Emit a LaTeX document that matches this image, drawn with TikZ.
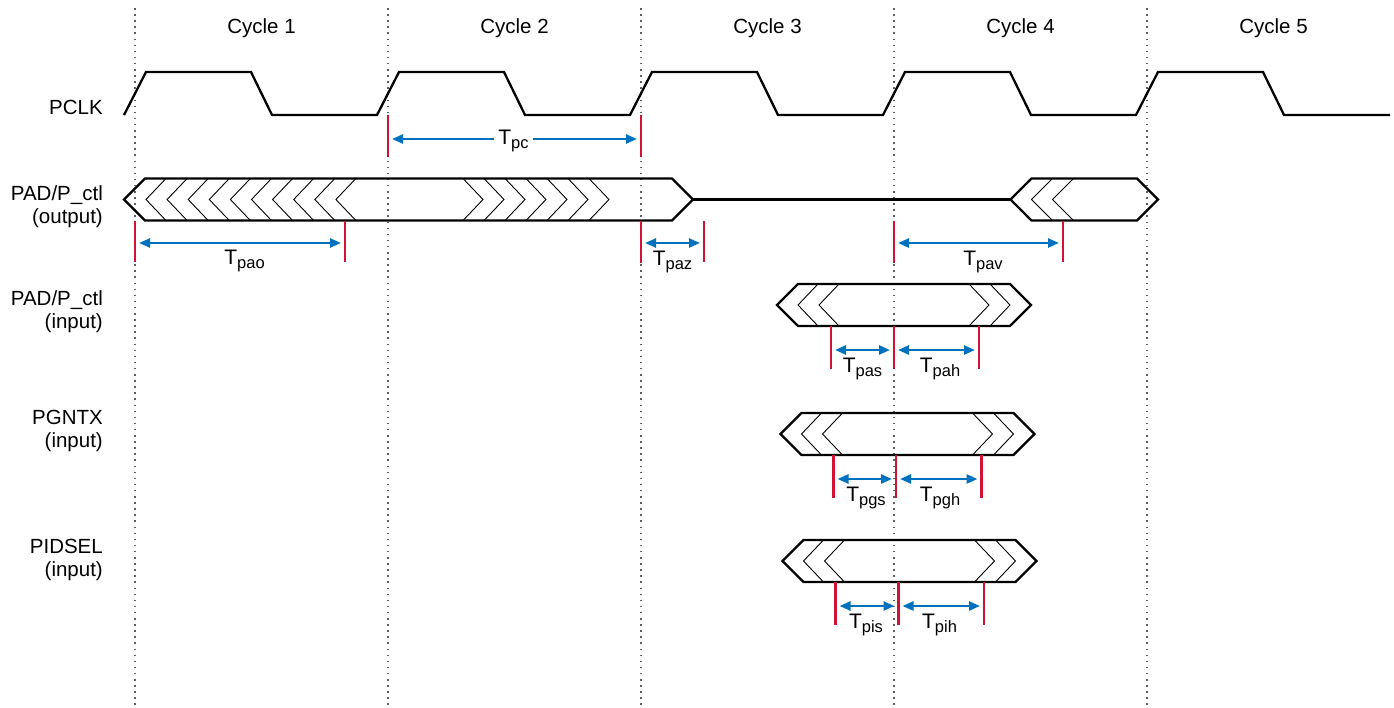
\documentclass[tikz,border=0pt]{standalone}
\usepackage{fontspec}
\setmainfont{Liberation Sans}
\usetikzlibrary{arrows.meta}
\definecolor{tred}{RGB}{210,18,52}
\definecolor{tblue}{RGB}{0,113,190}
\definecolor{dotgray}{RGB}{95,95,95}
\newcommand{\Tlab}[1]{T\raisebox{-4pt}{\fontsize{16.5}{18}\selectfont #1}}
\begin{document}
\begin{tikzpicture}[x=1pt,y=-1pt,
  lbl/.style={font=\fontsize{20.5}{24}\selectfont, inner sep=0pt},
  gridline/.style={dotgray, line width=1.5pt, dash pattern=on 1.5pt off 4.6pt},
  sig/.style={black, line width=2.3pt, line join=miter},
  chev/.style={black, line width=0.9pt},
  redtick/.style={tred, line width=2.2pt},
  dim/.style={tblue, line width=2.4pt, {Triangle[length=11pt,width=9pt]}-{Triangle[length=11pt,width=9pt]}, shorten <=4pt, shorten >=4pt},
  tlab/.style={font=\fontsize{21}{24}\selectfont, inner sep=0pt, anchor=base}
]
\useasboundingbox (0,0) rectangle (1394,707);

% cycle boundaries
\foreach \i/\x in {1/135,2/388,3/641,4/894,5/1147}{
  \coordinate (gt\i) at (\x,8);
  \coordinate (gb\i) at (\x,707);
  \draw[gridline] (gt\i) -- (gb\i);
}
\foreach \i/\x in {1/261.5,2/514.5,3/767.5,4/1020.5,5/1273.5}{
  \node[lbl, anchor=base] (cyc\i) at (\x,33) {Cycle \i};
}

% row labels
\node[lbl, anchor=base east] (lclk) at (103,114) {PCLK};
\node[lbl, anchor=base east] (lout1) at (103,200) {PAD/P\_ctl};
\node[lbl, anchor=base east] (lout2) at (103,223) {(output)};
\node[lbl, anchor=base east] (lin1) at (103,305) {PAD/P\_ctl};
\node[lbl, anchor=base east] (lin2) at (103,328) {(input)};
\node[lbl, anchor=base east] (lgnt1) at (103,424) {PGNTX};
\node[lbl, anchor=base east] (lgnt2) at (103,447) {(input)};
\node[lbl, anchor=base east] (lids1) at (103,553) {PIDSEL};
\node[lbl, anchor=base east] (lids2) at (103,576) {(input)};

% PCLK
\draw[sig] (124,115) -- (146,72) -- (251,72) -- (272,115) -- (377,115) -- (399,72) -- (504,72) -- (525,115)
  -- (630,115) -- (652,72) -- (757,72) -- (778,115) -- (883,115) -- (905,72) -- (1010,72) -- (1031,115)
  -- (1136,115) -- (1158,72) -- (1263,72) -- (1284,115) -- (1390,115);

% PAD/P_ctl output
\draw[sig] (124,199.5) -- (145,178.5) -- (672,178.5) -- (693,199.5) -- (672,220.5) -- (145,220.5) -- cycle;
\draw[sig] (693,199.5) -- (1010.5,199.5);
\draw[sig] (1010.5,199.5) -- (1031.5,178.5) -- (1137,178.5) -- (1158,199.5) -- (1137,220.5) -- (1031.5,220.5) -- cycle;
\foreach \k in {0,...,9}{
  \draw[chev] ({166+21.1*\k},178.5) -- ({146+21.1*\k},199.5) -- ({166+21.1*\k},220.5);
}
\foreach \k in {0,...,6}{
  \draw[chev] ({463+21*\k},178.5) -- ({483+21*\k},199.5) -- ({463+21*\k},220.5);
}
\foreach \t in {1031.5,1052.5}{
  \draw[chev] ({\t+21},178.5) -- (\t,199.5) -- ({\t+21},220.5);
}

% input buses
\foreach \L/\m in {777/305, 780.5/434, 782.5/561}{
  \draw[sig] (\L,\m) -- ({\L+21},{\m-21}) -- ({\L+233},{\m-21}) -- ({\L+254},\m) -- ({\L+233},{\m+21}) -- ({\L+21},{\m+21}) -- cycle;
  \foreach \d in {21,42}{
    \draw[chev] ({\L+\d+20},{\m-21}) -- ({\L+\d},\m) -- ({\L+\d+20},{\m+21});
  }
  \foreach \d in {212,233}{
    \draw[chev] ({\L+\d-20},{\m-21}) -- ({\L+\d},\m) -- ({\L+\d-20},{\m+21});
  }
}

% T_pc
\coordinate (pcAt) at (388,115); \coordinate (pcAb) at (388,157);
\coordinate (pcBt) at (641,115); \coordinate (pcBb) at (641,157);
\draw[redtick] (pcAt) -- (pcAb);
\draw[redtick] (pcBt) -- (pcBb);
\coordinate (pcA) at (388,139); \coordinate (pcB) at (641,139);
\draw[dim] (pcA) -- (pcB);
\node[tlab, fill=white, inner xsep=4pt, inner ysep=2pt] (tpc) at (513.5,144) {\Tlab{pc}};

% output timing
\foreach \n/\x/\a/\b in {o1/135/220.5/262, o2/345/220.5/262, o3/641/220.5/263, o4/704/221/262, o5/894/221/263, o6/1063/220.5/262}{
  \coordinate (\n t) at (\x,\a);
  \coordinate (\n b) at (\x,\b);
  \draw[redtick] (\n t) -- (\n b);
  \coordinate (\n) at (\x,243);
}
\draw[dim] (o1) -- (o2);
\draw[dim] (o3) -- (o4);
\draw[dim] (o5) -- (o6);
\node[tlab] (tpao) at (244.5,264) {\Tlab{pao}};
\node[tlab] (tpaz) at (672.5,265) {\Tlab{paz}};
\node[tlab] (tpav) at (983,265) {\Tlab{pav}};

% input timing rows
\foreach \r/\xa/\xb/\xc/\top/\ya in {a/831/894/979/326/350, b/833.5/896/981.5/455/479, c/835.5/898.5/984/582/606}{
  \foreach \j/\x in {1/\xa,2/\xb,3/\xc}{
    \coordinate (\r\j t) at (\x,\top);
    \coordinate (\r\j b) at (\x,{\top+43});
    \draw[redtick] (\r\j t) -- (\r\j b);
    \coordinate (\r\j) at (\x,\ya);
  }
  \draw[dim] (\r1) -- (\r2);
  \draw[dim] (\r2) -- (\r3);
}
\node[tlab] (tpas) at (862.5,372) {\Tlab{pas}};
\node[tlab] (tpah) at (940,372) {\Tlab{pah}};
\node[tlab] (tpgs) at (866,501.5) {\Tlab{pgs}};
\node[tlab] (tpgh) at (940,501.5) {\Tlab{pgh}};
\node[tlab] (tpis) at (866,628.5) {\Tlab{pis}};
\node[tlab] (tpih) at (939.5,628.5) {\Tlab{pih}};
\end{tikzpicture}
\end{document}
